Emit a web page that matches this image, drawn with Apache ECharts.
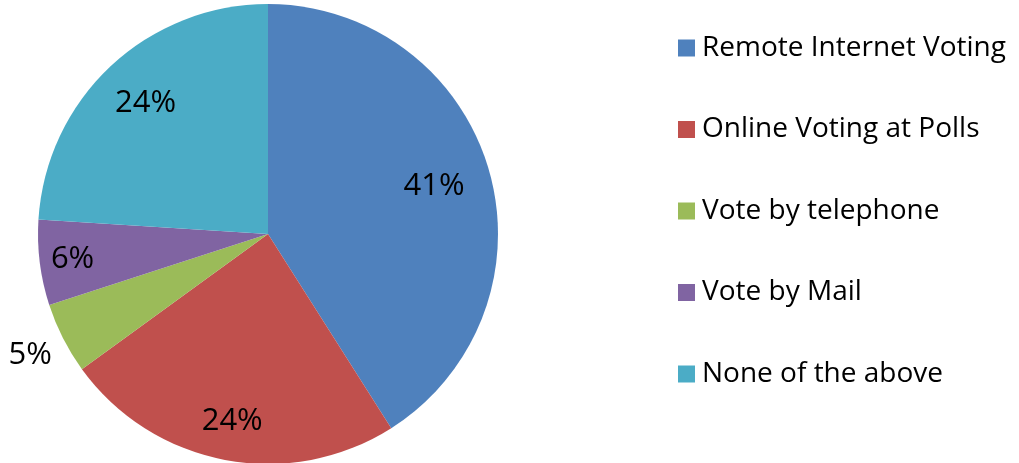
<!DOCTYPE html>
<html><head><meta charset="utf-8">
<script src="https://cdn.jsdelivr.net/npm/echarts@6/dist/echarts.min.js"></script>
<style>html,body{margin:0;padding:0;background:#fff}#c{width:1019px;height:463px}</style>
</head><body><div id="c"></div>
<script>
var categories = ['Remote Internet Voting','Online Voting at Polls','Vote by telephone','Vote by Mail','None of the above'];
var values = [41, 24, 5, 6, 24];
var colors = ['#4F81BD','#C0504D','#9BBB59','#8064A2','#4BACC6'];
var FONT = "'Open Sans', 'Noto Sans', sans-serif";
var cx = 268, cy = 234, R = 230;
var data = categories.map(function(n,i){return {name:n, value:values[i], itemStyle:{color:colors[i]}};});
function overlay(showIdx, dist){
  return {
    type:'pie', center:[cx,cy], radius:[0, dist*2], startAngle:90, clockwise:true,
    silent:true, legendHoverLink:false, animation:false,
    itemStyle:{color:'rgba(0,0,0,0)', borderWidth:0},
    labelLine:{show:false},
    data: categories.map(function(n,i){
      return {name:n, value:values[i], itemStyle:{color:'rgba(0,0,0,0)'},
        label:{show: showIdx.indexOf(i)>=0, position:'inside', formatter: values[i]+'%',
          color:'#000', fontSize:31, fontFamily:FONT}};
    }),
    tooltip:{show:false}
  };
}
var chart = echarts.init(document.getElementById('c'), null, {renderer:'canvas'});
chart.setOption({
  animation:false,
  legend:{
    orient:'vertical', left:673, top:28, itemWidth:17, itemHeight:17, itemGap:51.5,
    icon:'rect', data:categories,
    textStyle:{fontSize:28, fontFamily:FONT, color:'#000', lineHeight:30, padding:[0,0,0,2]}
  },
  series:[
    {type:'pie', center:[cx,cy], radius:[0,R], startAngle:90, clockwise:true, animation:false,
     label:{show:false}, labelLine:{show:false},
     itemStyle:{borderWidth:0},
     emphasis:{disabled:true},
     data:data},
    overlay([0], 170),
    overlay([1], 188),
    overlay([3], 194),
    overlay([4], 176),
    overlay([2], 264)
  ]
});
</script></body></html>
